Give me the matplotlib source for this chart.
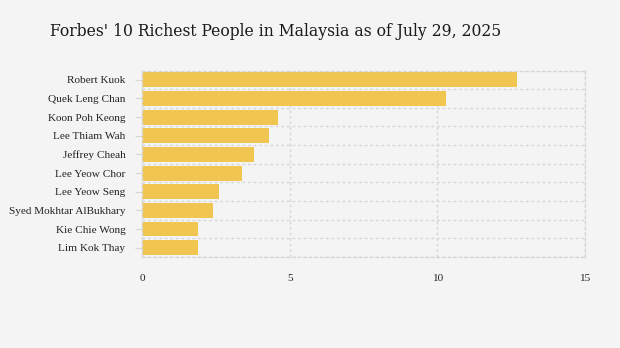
import numpy as np
import matplotlib
matplotlib.use("Agg")
import matplotlib.pyplot as plt

names = ["Robert Kuok", "Quek Leng Chan", "Koon Poh Keong", "Lee Thiam Wah",
         "Jeffrey Cheah", "Lee Yeow Chor", "Lee Yeow Seng",
         "Syed Mokhtar AlBukhary", "Kie Chie Wong", "Lim Kok Thay"]
worth = [12.7, 10.3, 4.6, 4.3, 3.8, 3.4, 2.6, 2.4, 1.9, 1.9]
xticks = [0, 5, 10, 15]

bg = "#f4f4f4"
grid_col = "#d6d6d6"

fig = plt.figure(figsize=(6.2, 3.48), dpi=100, facecolor=bg)
ax = fig.add_axes([142 / 620, 1 - 257 / 348, (585 - 142) / 620, (257 - 70.5) / 348])
ax.set_facecolor(bg)

y = np.arange(len(names))
ax.barh(y, worth, height=0.8, color="#f0c650", zorder=2)
ax.set_ylim(len(names) - 0.5, -0.5)
ax.set_xlim(0, 15)

ax.set_yticks(y)
ax.set_yticklabels(names, family="Liberation Serif", fontsize=8.1, color="#222222")
ax.set_xticks(xticks)
ax.set_xticklabels([str(t) for t in xticks], family="Liberation Serif", fontsize=8.1, color="#222222")
ax.set_yticks(np.arange(len(names) + 1) - 0.5, minor=True)
ax.tick_params(axis="y", which="major", length=5, color=grid_col, pad=7)
ax.tick_params(axis="y", which="minor", length=0)
ax.tick_params(axis="x", length=0, pad=12)

ax.grid(True, axis="x", which="major", color=grid_col, linestyle=(0, (2, 2)), linewidth=1, zorder=0)
ax.grid(True, axis="y", which="minor", color=grid_col, linestyle=(0, (2, 2)), linewidth=1, zorder=0)
for s in ax.spines.values():
    s.set_color(grid_col)
    s.set_linestyle((0, (2, 2)))
    s.set_linewidth(1)

title = fig.text(50 / 620, 1 - 31 / 348, "Forbes' 10 Richest People in Malaysia as of July 29, 2025",
                 family="DejaVu Serif", fontsize=12.5, color="#1a1a1a", va="center", ha="left")
# squeeze title to the reference width
fig.canvas.draw()
w = title.get_window_extent().width
title.set_fontsize(12.5 * 455 / w)

fig.savefig("out.png", dpi=100, facecolor=bg)
